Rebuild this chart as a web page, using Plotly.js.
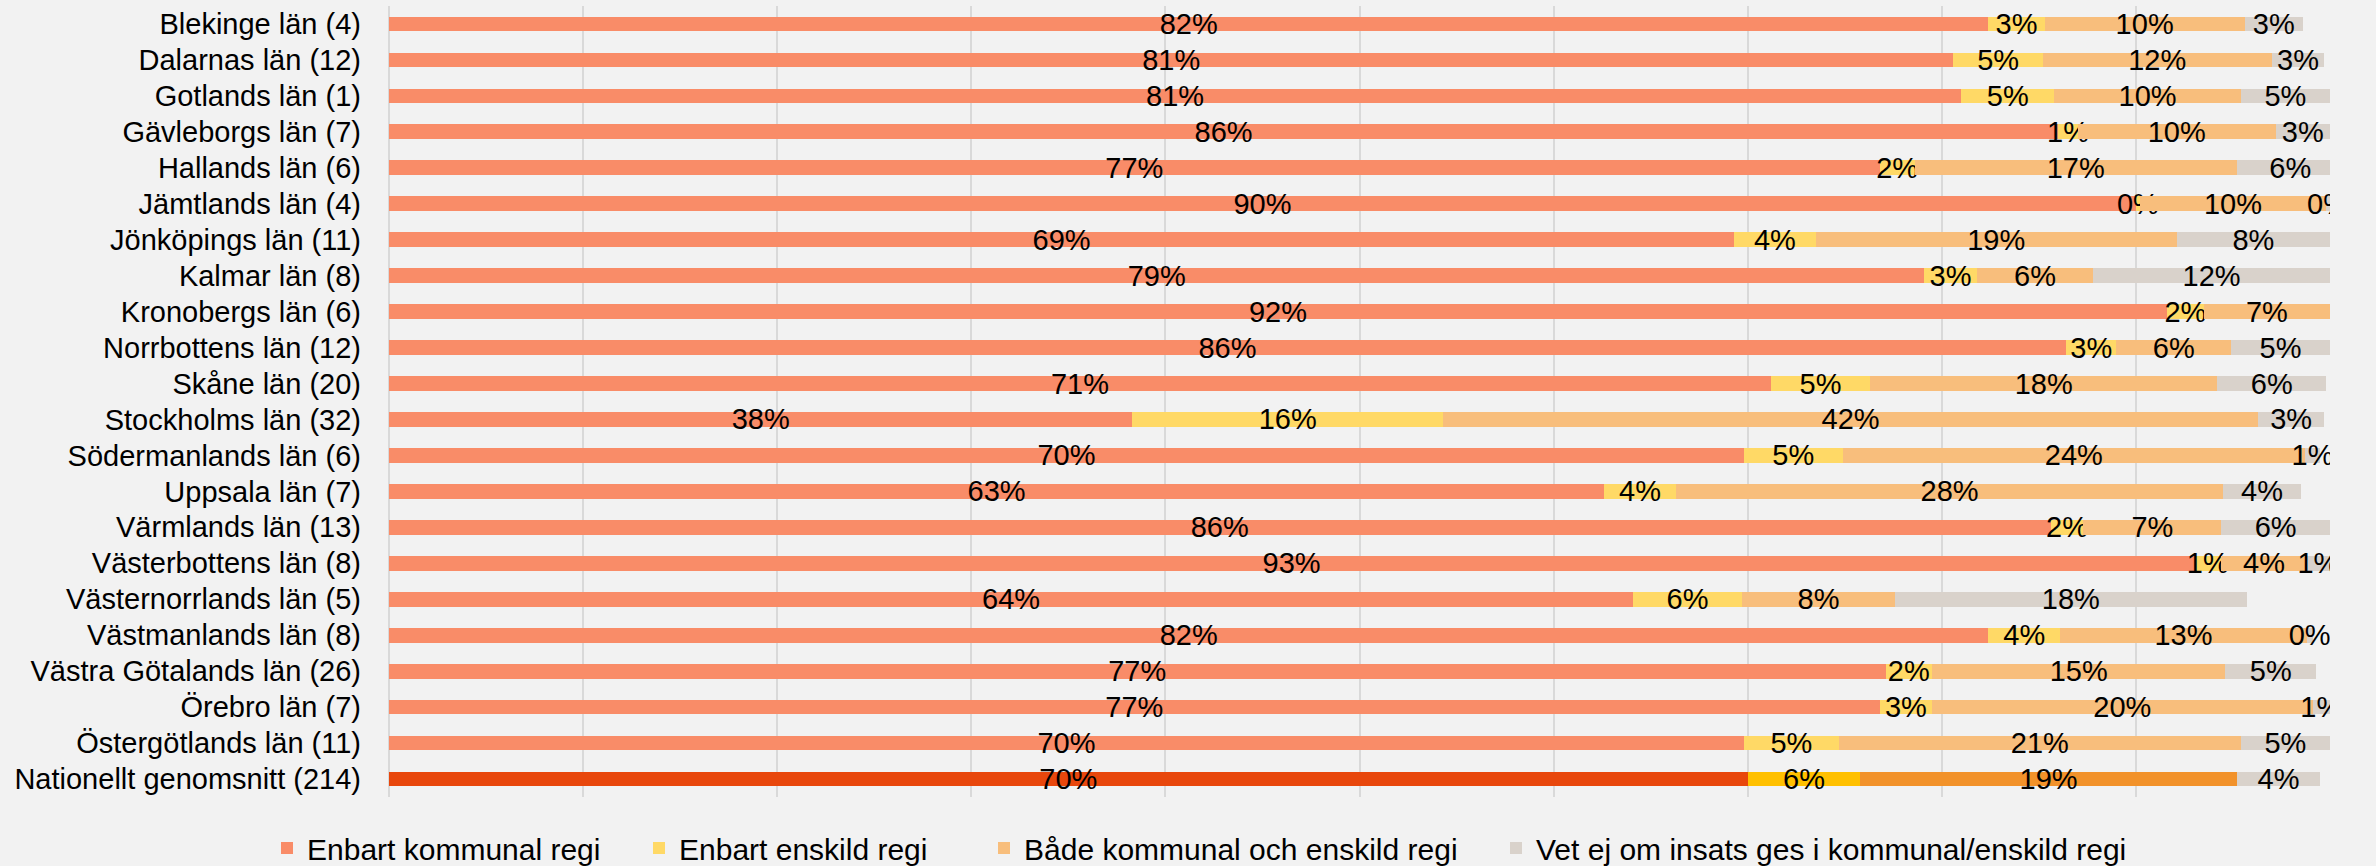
<!DOCTYPE html>
<html>
<head>
<meta charset="utf-8">
<script src="https://cdn.plot.ly/plotly-3.0.1.min.js"></script>
<style>
  html, body { margin: 0; padding: 0; background: #f2f2f2; }
  #chart { width: 2376px; height: 866px; }
</style>
</head>
<body>
<div id="chart"></div>
<script>
const categories = [
  "Blekinge län (4)", "Dalarnas län (12)", "Gotlands län (1)", "Gävleborgs län (7)",
  "Hallands län (6)", "Jämtlands län (4)", "Jönköpings län (11)", "Kalmar län (8)",
  "Kronobergs län (6)", "Norrbottens län (12)", "Skåne län (20)", "Stockholms län (32)",
  "Södermanlands län (6)", "Uppsala län (7)", "Värmlands län (13)", "Västerbottens län (8)",
  "Västernorrlands län (5)", "Västmanlands län (8)", "Västra Götalands län (26)",
  "Örebro län (7)", "Östergötlands län (11)", "Nationellt genomsnitt (214)"
];

const seriesNames = [
  "Enbart kommunal regi",
  "Enbart enskild regi",
  "Både kommunal och enskild regi",
  "Vet ej om insats ges i kommunal/enskild regi"
];

// Percentages
const enbartKommunal = [82.4, 80.6, 81.0, 86.0, 76.8, 90.0, 69.3, 79.1, 91.6, 86.4, 71.2, 38.3,
                        69.8, 62.6, 85.6, 93.0, 64.1, 82.4, 77.1, 76.8, 69.8, 70.0];
const enbartEnskild  = [2.9, 4.6, 4.8, 1.0, 1.8, 0.2, 4.2, 2.7, 1.9, 2.6, 5.1, 16.0,
                        5.1, 3.7, 1.7, 1.4, 5.6, 3.7, 2.4, 2.7, 4.9, 5.8];
const badeRegi       = [10.3, 11.8, 9.6, 10.2, 16.6, 9.6, 18.6, 6.0, 6.5, 5.9, 17.9, 42.0,
                        23.8, 28.2, 7.1, 4.4, 7.9, 12.7, 15.1, 19.6, 20.7, 19.4];
const vetEj          = [3.0, 2.7, 4.6, 2.8, 5.5, 0.2, 7.9, 12.2, null, 5.1, 5.6, 3.4,
                        0.8, 4.0, 5.6, 1.2, 18.1, 0.3, 4.7, 0.9, 4.6, 4.3];

const baseColors     = ["#F98C68", "#FFD966", "#F8BE7C", "#D9D2CB"];
const nationalColors = ["#E8470C", "#FFC000", "#F2922A", "#D9D2CB"];

const values = [enbartKommunal, enbartEnskild, badeRegi, vetEj];
const legendIds = ["legend", "legend2", "legend3", "legend4"];
const legendLeft = [267, 639, 984, 1496];   // container px of each legend entry
const fontFamily = "Liberation Sans, Arial, sans-serif";

const traces = values.map((vals, i) => ({
  type: "bar",
  orientation: "h",
  name: seriesNames[i],
  legend: legendIds[i],
  y: categories,
  x: vals,
  marker: {
    color: categories.map((c, j) => j === categories.length - 1 ? nationalColors[i] : baseColors[i]),
    line: { width: 0 }
  },
  texttemplate: "%{x:.0f}%",
  textposition: "inside",
  insidetextanchor: "middle",
  textangle: 0,
  constraintext: "none",
  insidetextfont: { family: fontFamily, size: 29, color: "#000000" },
  hoverinfo: "skip"
}));

const layout = {
  width: 2376,
  height: 866,
  barmode: "stack",
  bargap: 0.59,
  paper_bgcolor: "#f2f2f2",
  plot_bgcolor: "#f2f2f2",
  margin: { l: 389, r: 46, t: 6, b: 69, pad: 0 },
  font: { family: fontFamily, size: 29, color: "#000000" },
  showlegend: true,
  xaxis: {
    range: [0, 100],
    dtick: 10,
    tick0: 0,
    showgrid: true,
    gridcolor: "#D9D9D9",
    gridwidth: 2,
    zeroline: true,
    zerolinecolor: "#D9D9D9",
    zerolinewidth: 2,
    showticklabels: false,
    ticks: "",
    showline: false,
    fixedrange: true
  },
  yaxis: {
    type: "category",
    autorange: "reversed",
    showgrid: false,
    zeroline: false,
    showline: false,
    ticks: "",
    ticklabelstandoff: 27,
    tickfont: { family: fontFamily, size: 29, color: "#000000" },
    fixedrange: true
  }
};

legendIds.forEach((id, i) => {
  layout[id] = {
    orientation: "h",
    xref: "container",
    yref: "container",
    x: legendLeft[i] / 2376,
    xanchor: "left",
    y: (866 - 848) / 866,
    yanchor: "middle",
    font: { family: fontFamily, size: 30, color: "#000000" },
    bgcolor: "rgba(0,0,0,0)",
    borderwidth: 0
  };
});

Plotly.newPlot("chart", traces, layout, { displayModeBar: false, staticPlot: true });
</script>
</body>
</html>
